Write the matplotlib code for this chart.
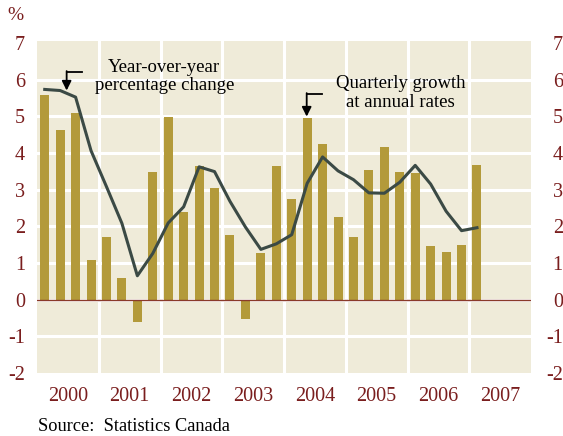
import matplotlib
matplotlib.use('Agg')
import matplotlib.pyplot as plt
from matplotlib.transforms import ScaledTranslation
import numpy as np

years = ['2000', '2001', '2002', '2003', '2004', '2005', '2006', '2007']
# quarterly growth at annual rates, 2000Q1 - 2007Q1
quarterly = [5.58, 4.63, 5.09, 1.07,
             1.72, 0.58, -0.62, 3.49,
             4.98, 2.39, 3.63, 3.03,
             1.75, -0.54, 1.26, 3.65,
             2.73, 4.94, 4.23, 2.26,
             1.72, 3.53, 4.16, 3.49,
             3.44, 1.47, 1.29, 1.50,
             3.67]
# year-over-year percentage change
yoy = [5.73, 5.70, 5.52, 4.06,
       3.08, 2.08, 0.65, 1.26,
       2.09, 2.53, 3.62, 3.49,
       2.68, 1.98, 1.37, 1.52,
       1.77, 3.17, 3.89, 3.51,
       3.27, 2.91, 2.90, 3.20,
       3.66, 3.15, 2.41, 1.88,
       1.96]

red = '#7a1e1e'
plt.rcParams['font.family'] = 'Liberation Serif'

fig = plt.figure(figsize=(5.63, 4.36), dpi=100)
ax = fig.add_axes([37/563, 1-373/436, 494/563, 332/436])
ax.set_facecolor('#efebd9')

x = np.arange(len(quarterly))
ax.bar(x, quarterly, width=0.58, color='#b39a3a', zorder=3)
ax.plot(np.arange(len(yoy)), yoy, color='#3b4a45', lw=2.2, zorder=4)
ax.axhline(0, color='#8a3a2a', lw=1.0, zorder=5)

ax.set_xlim(-0.5, 31.5)
ax.set_ylim(-2, 7.05)

for v in range(-1, 7):
    ax.axhline(v, color='white', lw=2.2, zorder=1)
for b in range(1, 8):
    ax.axvline(b*4 - 0.5, color='white', lw=2.2, zorder=1)

for s in ax.spines.values():
    s.set_visible(False)

ax.set_yticks(range(-2, 8))
ax.set_yticklabels([str(v) for v in range(-2, 8)])
ax.set_xticks([i*4 + 1.5 for i in range(len(years))])
ax.set_xticklabels(years)
ax.tick_params(axis='both', length=0, labelsize=14.5, labelcolor=red)
ax.tick_params(axis='x', pad=10)
ax.tick_params(axis='y', pad=8.5, labelright=True)

# right-hand labels are right-aligned near the image edge
off = ScaledTranslation(20/100, 0, fig.dpi_scale_trans)
for t in ax.yaxis.get_major_ticks():
    t.label2.set_horizontalalignment('right')
    t.label2.set_transform(t.label2.get_transform() + off)

# annotations
ax.plot([1.42, 2.39], [6.21, 6.21], color='black', lw=1.3, zorder=6)
ax.annotate('', xy=(1.42, 5.70), xytext=(1.42, 6.23),
            arrowprops=dict(arrowstyle='-|>', color='black', lw=1.3,
                            mutation_scale=14, shrinkA=0, shrinkB=0), zorder=6)
ax.text(7.75, 6.08, 'Year-over-year\npercentage change', ha='center', va='center',
        fontsize=13.5, linespacing=1.1, zorder=6)

ax.plot([16.97, 17.94], [5.61, 5.61], color='black', lw=1.3, zorder=6)
ax.annotate('', xy=(16.97, 4.99), xytext=(16.97, 5.63),
            arrowprops=dict(arrowstyle='-|>', color='black', lw=1.3,
                            mutation_scale=14, shrinkA=0, shrinkB=0), zorder=6)
ax.text(23.05, 5.63, 'Quarterly growth\nat annual rates', ha='center', va='center',
        fontsize=13.5, linespacing=1.1, zorder=6)

fig.text(7/563, 1-16/436, '%', color=red, fontsize=14, va='center', ha='left')
fig.text(38/563, 1-426/436, 'Source:  Statistics Canada', color='black',
         fontsize=13.2, va='center', ha='left')

fig.savefig('out.png', dpi=100)
